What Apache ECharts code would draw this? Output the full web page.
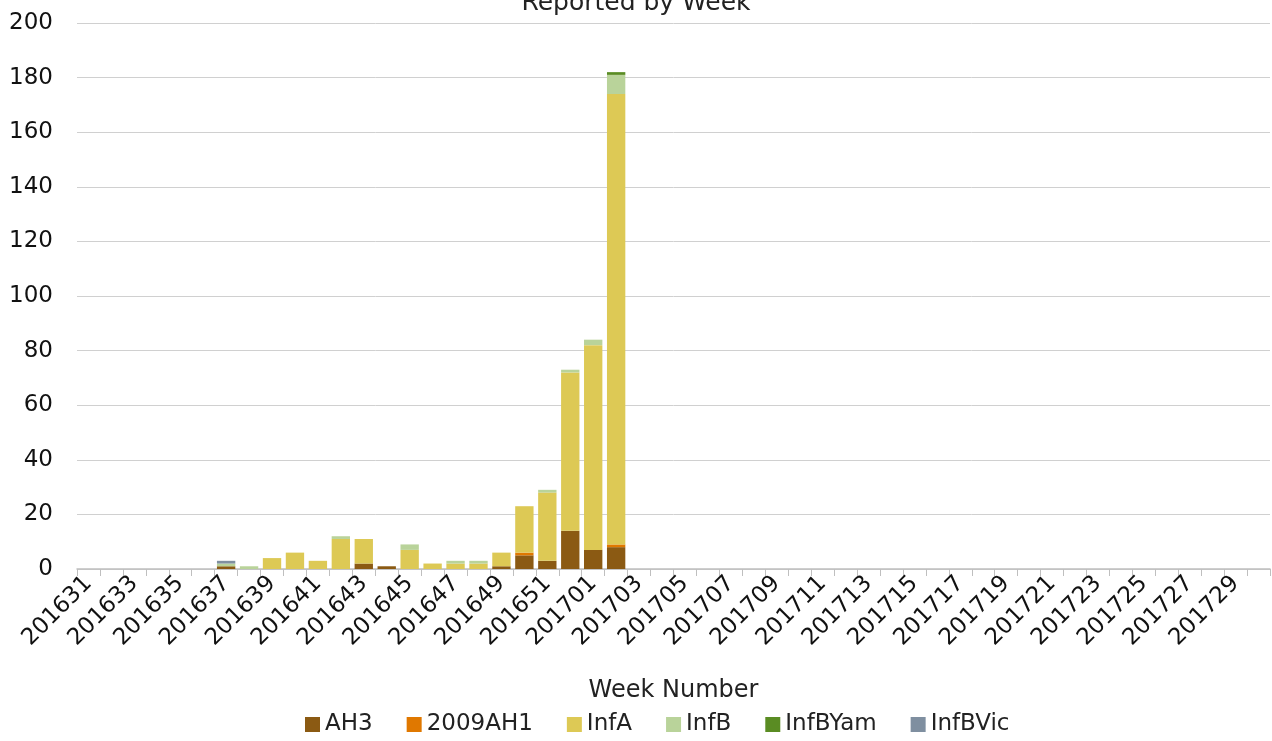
<!DOCTYPE html>
<html lang="en">
<head>
    <meta charset="UTF-8">
    <title>Reported by Week</title>
    <script src="https://cdn.jsdelivr.net/npm/echarts@6/dist/echarts.min.js"></script>
    <style>
        html, body {
            margin: 0;
            padding: 0;
            background: #fff;
        }
        #chart {
            width: 1272px;
            height: 741px;
        }
    </style>
</head>
<body>
<div id="chart"></div>
<script>
    // week numbers on the x axis
    var weeks = [
        '201631', '201632', '201633', '201634', '201635', '201636', '201637', '201638', '201639', '201640',
        '201641', '201642', '201643', '201644', '201645', '201646', '201647', '201648', '201649', '201650',
        '201651', '201652', '201701', '201702', '201703', '201704', '201705', '201706', '201707', '201708',
        '201709', '201710', '201711', '201712', '201713', '201714', '201715', '201716', '201717', '201718',
        '201719', '201720', '201721', '201722', '201723', '201724', '201725', '201726', '201727', '201728',
        '201729', '201730'
    ];

    var ah3 = [
        0, 0, 0, 0, 0, 0, 1, 0, 0, 0,
        0, 0, 2, 1, 0, 0, 0, 0, 1, 5,
        3, 14, 7, 8, 0, 0, 0, 0, 0, 0,
        0, 0, 0, 0, 0, 0, 0, 0, 0, 0,
        0, 0, 0, 0, 0, 0, 0, 0, 0, 0,
        0, 0
    ];
    var h1_2009 = [
        0, 0, 0, 0, 0, 0, 0, 0, 0, 0,
        0, 0, 0, 0, 0, 0, 0, 0, 0, 1,
        0, 0, 0, 1, 0, 0, 0, 0, 0, 0,
        0, 0, 0, 0, 0, 0, 0, 0, 0, 0,
        0, 0, 0, 0, 0, 0, 0, 0, 0, 0,
        0, 0
    ];
    var infA = [
        0, 0, 0, 0, 0, 0, 0, 0, 4, 6,
        3, 11, 9, 0, 7, 2, 2, 2, 5, 17,
        25, 58, 75, 165, 0, 0, 0, 0, 0, 0,
        0, 0, 0, 0, 0, 0, 0, 0, 0, 0,
        0, 0, 0, 0, 0, 0, 0, 0, 0, 0,
        0, 0
    ];
    var infB = [
        0, 0, 0, 0, 0, 0, 1, 1, 0, 0,
        0, 1, 0, 0, 2, 0, 1, 1, 0, 0,
        1, 1, 2, 7, 0, 0, 0, 0, 0, 0,
        0, 0, 0, 0, 0, 0, 0, 0, 0, 0,
        0, 0, 0, 0, 0, 0, 0, 0, 0, 0,
        0, 0
    ];
    var infBYam = [
        0, 0, 0, 0, 0, 0, 0, 0, 0, 0,
        0, 0, 0, 0, 0, 0, 0, 0, 0, 0,
        0, 0, 0, 1, 0, 0, 0, 0, 0, 0,
        0, 0, 0, 0, 0, 0, 0, 0, 0, 0,
        0, 0, 0, 0, 0, 0, 0, 0, 0, 0,
        0, 0
    ];
    var infBVic = [
        0, 0, 0, 0, 0, 0, 1, 0, 0, 0,
        0, 0, 0, 0, 0, 0, 0, 0, 0, 0,
        0, 0, 0, 0, 0, 0, 0, 0, 0, 0,
        0, 0, 0, 0, 0, 0, 0, 0, 0, 0,
        0, 0, 0, 0, 0, 0, 0, 0, 0, 0,
        0, 0
    ];

    var seriesNames = ['AH3', '2009AH1', 'InfA', 'InfB', 'InfBYam', 'InfBVic'];
    var seriesData = [ah3, h1_2009, infA, infB, infBYam, infBVic];
    var colors = ['#8B5A13', '#E07800', '#DDC955', '#B9D39A', '#5A8C23', '#7F8FA0'];

    var fontFamily = 'DejaVu Sans';

    var series = [];
    for (var i = 0; i < seriesNames.length; i++) {
        series.push({
            name: seriesNames[i],
            type: 'bar',
            stack: 'total',
            barCategoryGap: '20%',
            itemStyle: {
                color: colors[i]
            },
            data: seriesData[i]
        });
    }

    var option = {
        color: colors,
        textStyle: {
            fontFamily: fontFamily
        },
        title: {
            text: 'Reported by Week',
            left: 'center',
            top: -14,
            textStyle: {
                fontSize: 25,
                fontWeight: 'normal',
                color: '#222',
                fontFamily: fontFamily
            }
        },
        legend: {
            data: seriesNames,
            bottom: 0,
            left: 300,
            icon: 'rect',
            itemWidth: 15,
            itemHeight: 15,
            itemGap: 34,
            textStyle: {
                fontSize: 23,
                color: '#222'
            }
        },
        grid: {
            left: 77,
            right: 2,
            top: 23,
            bottom: 172
        },
        xAxis: {
            type: 'category',
            data: weeks,
            name: 'Week Number',
            nameLocation: 'middle',
            nameGap: 110,
            nameTextStyle: {
                fontSize: 24,
                color: '#222'
            },
            axisLine: {
                lineStyle: {
                    color: '#bfbfbf',
                    width: 1.5
                }
            },
            axisTick: {
                show: true,
                interval: 0,
                length: 7,
                lineStyle: {
                    color: '#bfbfbf'
                }
            },
            axisLabel: {
                interval: 1,
                rotate: 45,
                margin: 11,
                fontSize: 23,
                color: '#111'
            }
        },
        yAxis: {
            type: 'value',
            min: 0,
            max: 200,
            interval: 20,
            axisLine: { show: false },
            axisTick: { show: false },
            axisLabel: {
                fontSize: 23,
                color: '#111',
                margin: 24
            },
            splitLine: {
                lineStyle: {
                    color: '#d0d0d0',
                    width: 1
                }
            }
        },
        series: series
    };

    var myChart = echarts.init(document.getElementById('chart'));
    myChart.setOption(option);
</script>
</body>
</html>
